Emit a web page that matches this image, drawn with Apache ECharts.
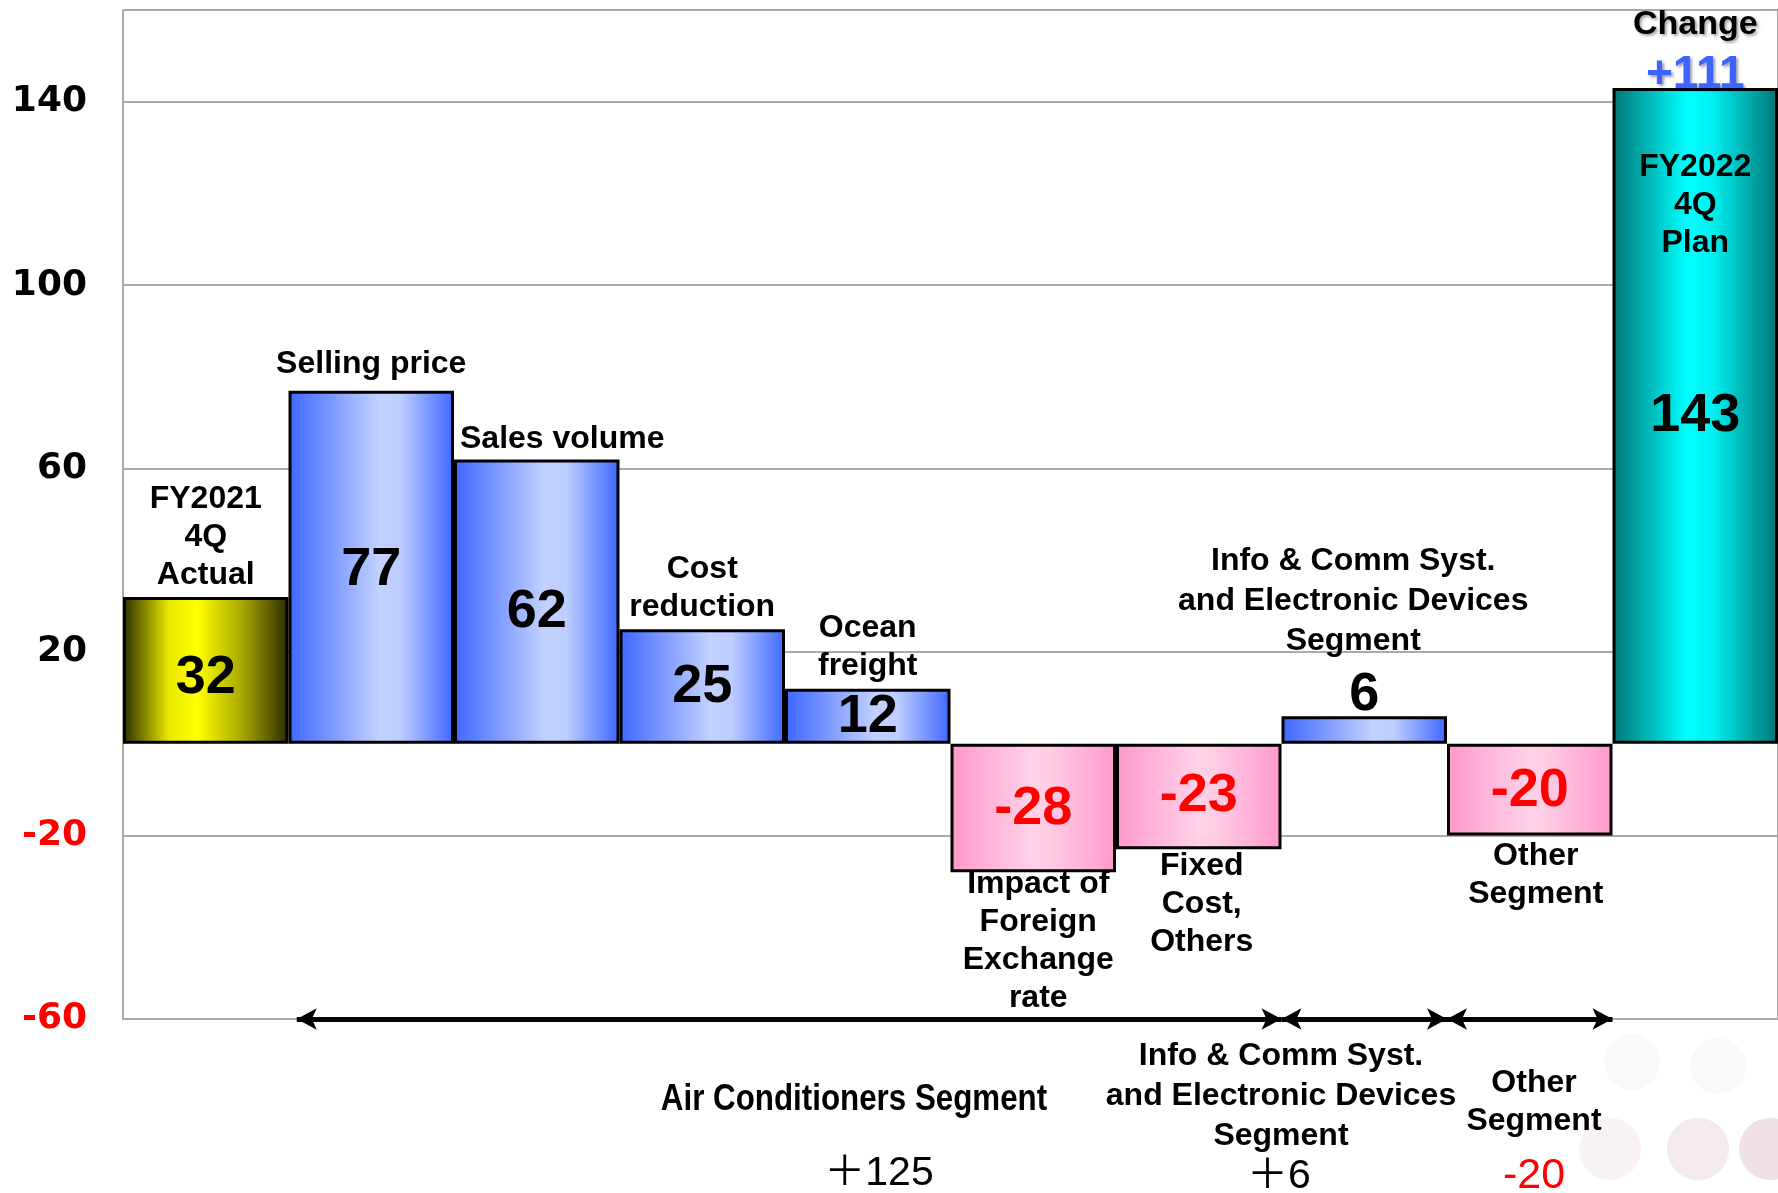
<!doctype html>
<html>
<head>
<meta charset="utf-8">
<title>FY2022 4Q Plan</title>
<script src="https://cdn.jsdelivr.net/npm/echarts@6/dist/echarts.min.js"></script>
<style>
  html, body { margin: 0; padding: 0; background: #fff; }
  #chart { width: 1778px; height: 1193px; }
</style>
</head>
<body>
<div id="chart"></div>
<script>
// data
var categories = ['FY2021\n4Q\nActual', 'Selling price', 'Sales volume', 'Cost\nreduction', 'Ocean\nfreight',
  'Impact of\nForeign\nExchange\nrate', 'Fixed\nCost,\nOthers', 'Info & Comm Syst.\nand Electronic Devices\nSegment',
  'Other\nSegment', 'FY2022\n4Q\nPlan'];
var values = [32, 77, 62, 25, 12, -28, -23, 6, -20, 143];
var yTicks = [-60, -20, 20, 60, 100, 140];
var segmentNames = ['Air Conditioners Segment', 'Info & Comm Syst.\nand Electronic Devices\nSegment', 'Other\nSegment'];
var segmentStart = [1, 7, 8];
var segmentEnd = [7, 8, 9];

var FONT = '"Liberation Sans", Arial, sans-serif';
var last = values.length - 1;

function hGrad(stops) {
  return new echarts.graphic.LinearGradient(0, 0, 1, 0, stops.map(function (s) {
    return { offset: s[0], color: s[1] };
  }));
}
var fills = {
  actual: hGrad([[0, '#2b2b00'], [0.28, '#eaea00'], [0.45, '#ffff00'], [0.72, '#a8a800'], [1, '#2b2b00']]),
  pos: hGrad([[0, '#3d66ff'], [0.55, '#c3d2ff'], [0.68, '#bccdff'], [1, '#3f67ff']]),
  neg: hGrad([[0, '#ff99cc'], [0.5, '#ffd2e8'], [0.6, '#ffcce4'], [1, '#ff99cc']]),
  plan: hGrad([[0, '#007474'], [0.45, '#00ffff'], [0.6, '#00f2f2'], [1, '#007474']])
};
function kindOf(i) {
  if (i === 0) return 'actual';
  if (i === last) return 'plan';
  return values[i] < 0 ? 'neg' : 'pos';
}

// category-name placement for each bar
var namePlace = [
  { position: 'top', distance: 3 },
  { position: 'top', distance: 7 },
  { position: [6, -1], align: 'left', verticalAlign: 'bottom' },
  { position: 'top', distance: 3 },
  { position: 'top', distance: 4 },
  { position: 'bottom', distance: -7, offset: [5, 0] },
  { position: 'bottom', distance: -2, offset: [3, 0] },
  { position: 'top', distance: 55, offset: [-11, 0], lineHeight: 40 },
  { position: 'bottom', distance: 2, offset: [6, 0] },
  { position: 'insideTop', distance: 60 }
];
// small nudges of the value labels
var valueNudge = [8, 3, 10, 1, 1, 1, 0, 5, 1, 0];

var mainData = values.map(function (v, i) {
  var small = v > 0 && v < 10;
  return {
    value: v,
    itemStyle: { color: fills[kindOf(i)] },
    label: {
      position: small ? 'top' : 'inside',
      distance: small ? -6 : 0,
      color: v < 0 ? '#ff0000' : '#000',
      offset: [0, small ? 0 : valueNudge[i]]
    }
  };
});

var nameData = values.map(function (v, i) {
  return { value: v, label: namePlace[i] };
});

var changeData = values.map(function (v, i) { return i === last ? v : '-'; });
var change = values[last] - values[0];

var segTotals = segmentStart.map(function (s, k) {
  var t = 0;
  for (var i = s; i < segmentEnd[k]; i++) t += values[i];
  return t;
});
function signed(n) { return n > 0 ? '\uff0b' + n : String(n); }

var myChart = echarts.init(document.getElementById('chart'));
var option = {
  animation: false,
  backgroundColor: '#fff',
  grid: {
    left: 123, right: 0, top: 10, bottom: 174,
    show: true, borderColor: '#aaaaaa', borderWidth: 2
  },
  xAxis: [{
    type: 'category',
    data: categories,
    axisLabel: { show: false },
    axisTick: { show: false },
    axisLine: { show: false }
  }, {
    type: 'value', min: 0, max: categories.length, show: false
  }],
  yAxis: {
    type: 'value',
    min: -60, max: 160, interval: 40,
    axisLine: { show: false },
    axisTick: { show: false },
    splitLine: { lineStyle: { color: '#aaaaaa', width: 2 } },
    axisLabel: {
      margin: 36,
      fontFamily: '"DejaVu Sans", sans-serif',
      fontWeight: 'bold',
      fontSize: 36,
      formatter: function (v) { return yTicks.indexOf(v) >= 0 ? String(v) : ''; },
      color: function (v) { return Number(v) < 0 ? '#ff0000' : '#000'; }
    }
  },
  series: [{
    type: 'bar',
    data: mainData,
    barCategoryGap: '0%',
    barGap: '-100%',
    itemStyle: { borderColor: '#000', borderWidth: 3 },
    label: {
      show: true,
      fontFamily: FONT,
      fontWeight: 'bold',
      fontSize: 54
    },
    z: 2
  }, {
    type: 'bar',
    data: nameData,
    barCategoryGap: '0%',
    barGap: '-100%',
    itemStyle: { color: 'transparent' },
    label: {
      show: true,
      formatter: function (p) { return categories[p.dataIndex]; },
      fontFamily: FONT,
      fontWeight: 'bold',
      fontSize: 32,
      lineHeight: 38,
      color: '#000'
    },
    z: 3
  }, {
    type: 'bar',
    data: changeData,
    barCategoryGap: '0%',
    barGap: '-100%',
    itemStyle: { color: 'transparent' },
    label: {
      show: true,
      position: 'top',
      distance: -12,
      formatter: '{a|Change}\n{b|+' + change + '}',
      rich: {
        a: {
          fontFamily: FONT, fontWeight: 'bold', fontSize: 34, lineHeight: 50, color: '#000',
          textShadowColor: 'rgba(0,0,0,0.35)', textShadowBlur: 3, textShadowOffsetX: 2, textShadowOffsetY: 2
        },
        b: {
          fontFamily: FONT, fontWeight: 'bold', fontSize: 46, lineHeight: 50, color: '#3d64ff',
          textShadowColor: 'rgba(0,0,60,0.4)', textShadowBlur: 3, textShadowOffsetX: 2, textShadowOffsetY: 2
        }
      }
    },
    z: 3
  }, {
    type: 'line',
    xAxisIndex: 1,
    data: [],
    markLine: {
      silent: true,
      animation: false,
      symbol: ['arrow', 'arrow'],
      symbolSize: [16, 20],
      label: { show: false },
      lineStyle: { color: '#000', width: 5, type: 'solid' },
      data: segmentStart.map(function (s, k) {
        return [{ coord: [k === 0 ? s + 0.05 : s, -60] }, { coord: [segmentEnd[k], -60] }];
      })
    }
  }],
  graphic: [
    { type: 'circle', shape: { cx: 1610, cy: 1149, r: 31 }, style: { fill: 'rgba(238,222,228,0.35)' }, z: -1 },
    { type: 'circle', shape: { cx: 1698, cy: 1149, r: 31 }, style: { fill: 'rgba(234,214,222,0.5)' }, z: -1 },
    { type: 'circle', shape: { cx: 1770, cy: 1149, r: 31 }, style: { fill: 'rgba(230,205,215,0.6)' }, z: -1 },
    { type: 'circle', shape: { cx: 1632, cy: 1062, r: 28 }, style: { fill: 'rgba(244,236,239,0.35)' }, z: -1 },
    { type: 'circle', shape: { cx: 1718, cy: 1066, r: 28 }, style: { fill: 'rgba(244,236,239,0.35)' }, z: -1 },
    {
      type: 'text', x: 854, y: 1100, scaleX: 0.87,
      style: { text: segmentNames[0], font: 'bold 36px ' + FONT, fill: '#000', align: 'center', verticalAlign: 'middle' }
    },
    {
      type: 'text', x: 879, y: 1174,
      style: { text: signed(segTotals[0]), font: '41px "Liberation Sans", "Noto Sans CJK JP", sans-serif', fill: '#000', align: 'center', verticalAlign: 'middle' }
    },
    {
      type: 'text', x: 1281, y: 1036,
      style: { text: segmentNames[1], font: 'bold 32px ' + FONT, lineHeight: 40, fill: '#000', align: 'center', verticalAlign: 'top' }
    },
    {
      type: 'text', x: 1279, y: 1177,
      style: { text: signed(segTotals[1]), font: '41px "Liberation Sans", "Noto Sans CJK JP", sans-serif', fill: '#000', align: 'center', verticalAlign: 'middle' }
    },
    {
      type: 'text', x: 1534, y: 1064,
      style: { text: segmentNames[2], font: 'bold 32px ' + FONT, lineHeight: 38, fill: '#000', align: 'center', verticalAlign: 'top' }
    },
    {
      type: 'text', x: 1534, y: 1176,
      style: { text: signed(segTotals[2]), font: '43px "Liberation Sans", sans-serif', fill: '#ff0000', align: 'center', verticalAlign: 'middle' }
    }
  ]
};
myChart.setOption(option);
</script>
</body>
</html>
